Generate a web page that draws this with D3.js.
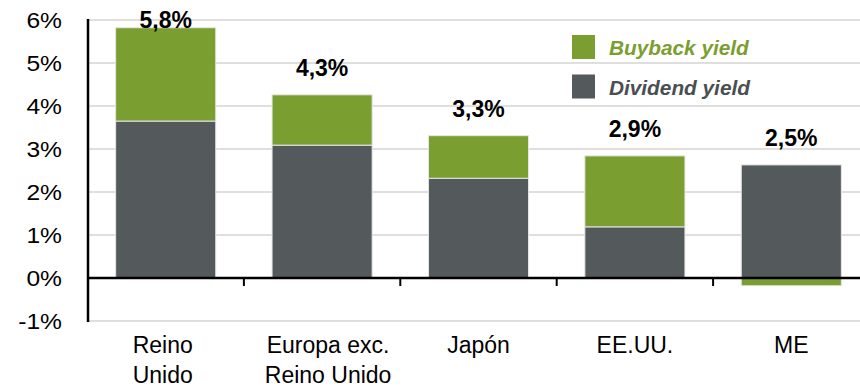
<!DOCTYPE html>
<html><head><meta charset="utf-8">
<script src="https://cdn.jsdelivr.net/npm/d3@7"></script>
<style>body{margin:0;background:#fff}svg{display:block}text{font-family:"Liberation Sans",Arial,sans-serif}</style>
</head><body><svg id="c" width="860" height="387"></svg>
<script>
const categories = [["Reino","Unido"],["Europa exc.","Reino Unido"],["Japón"],["EE.UU."],["ME"]];
const dividend = [3.65, 3.09, 2.32, 1.19, 2.63];
const buyback = [2.17, 1.17, 0.99, 1.65, -0.18];
const totalLabels = ["5,8%","4,3%","3,3%","2,9%","2,5%"];
const yTicks = [-1,0,1,2,3,4,5,6];
const seriesNames = ["Buyback yield","Dividend yield"];

// layout: small horizontal nudges of category labels (px)
const labelNudge = [-3, 6, 0, 0, 0];

const green = "#7a9e2f", grey = "#54595c";
const svg = d3.select("#c");
const x = d3.scaleBand().domain(d3.range(categories.length)).range([87.5, 869.5]).paddingInner(0.36).paddingOuter(0.18);
const y = d3.scaleLinear().domain([-1, 6]).range([321, 20]);

// gridlines
svg.append("g").selectAll("line").data(yTicks).join("line")
  .attr("x1", 88).attr("x2", 860).attr("y1", d=>y(d)).attr("y2", d=>y(d))
  .attr("stroke", "#d4d4d4").attr("stroke-width", 1.5);

// tick labels
svg.append("g").selectAll("text").data(yTicks).join("text")
  .attr("transform", d=>`translate(62,${y(d)+8}) scale(1.12,1)`)
  .attr("text-anchor","end").attr("font-size",22).attr("fill","#000")
  .text(d=>d+"%");

// bars
const g = svg.append("g");
categories.forEach((c,i)=>{
  const d = dividend[i], b = buyback[i];
  g.append("rect").attr("x", x(i)).attr("width", x.bandwidth())
    .attr("y", y(d)).attr("height", y(0)-y(d)).attr("fill", grey)
    .attr("stroke","#e6e6e6").attr("stroke-width",1);
  const b0 = b >= 0 ? d : 0, b1 = b >= 0 ? d + b : b;
  g.append("rect").attr("x", x(i)).attr("width", x.bandwidth())
    .attr("y", Math.min(y(b0), y(b1))).attr("height", Math.abs(y(b0)-y(b1))).attr("fill", green)
    .attr("stroke","#e6e6e6").attr("stroke-width",1);
});

// axes lines
svg.append("line").attr("x1",88).attr("x2",88).attr("y1",19).attr("y2",322).attr("stroke","#000").attr("stroke-width",2.5);
svg.append("line").attr("x1",87).attr("x2",860).attr("y1",y(0)).attr("y2",y(0)).attr("stroke","#000").attr("stroke-width",2.5);
svg.append("g").selectAll("line").data(d3.range(1,categories.length)).join("line")
  .attr("x1", i=>x(i)-x.step()*x.paddingInner()/2).attr("x2", i=>x(i)-x.step()*x.paddingInner()/2)
  .attr("y1", y(0)).attr("y2", y(0)+8).attr("stroke","#000").attr("stroke-width",2);

// value labels
categories.forEach((c,i)=>{
  const top = dividend[i] + Math.max(0, buyback[i]);
  const ly = Math.max(y(top) - 19, 28);
  svg.append("text").attr("transform",`translate(${x(i)+x.bandwidth()/2},${ly})`)
    .attr("text-anchor","middle").attr("font-size",23).attr("font-weight","bold").attr("fill","#000")
    .text(totalLabels[i]);
});

// category labels
categories.forEach((c,i)=>{
  c.forEach((line,j)=>{
    svg.append("text").attr("transform",`translate(${x(i)+x.bandwidth()/2 + labelNudge[i]},${353+j*30})`)
      .attr("text-anchor","middle").attr("font-size",23).attr("fill","#000").text(line);
  });
});

// legend
const lg = svg.append("g");
[green, grey].forEach((col,k)=>{
  lg.append("rect").attr("x",572).attr("y",35+k*39.5).attr("width",23).attr("height",24).attr("fill",col);
  lg.append("text").attr("transform",`translate(609,${54.5+k*40}) scale(1.04,1)`)
    .attr("font-size",20).attr("font-weight","bold").attr("font-style","italic")
    .attr("fill", k===0 ? green : "#4a4e51").text(seriesNames[k]);
});
</script></body></html>
